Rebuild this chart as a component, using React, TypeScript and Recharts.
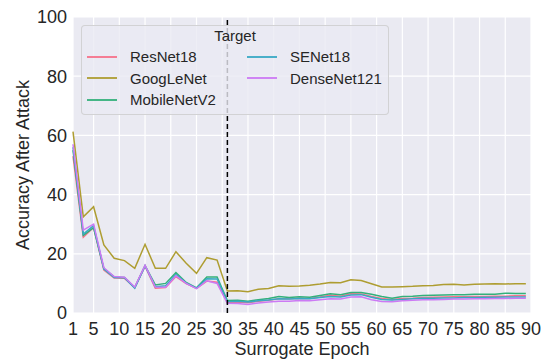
import React from 'react';
import { LineChart, Line, XAxis, YAxis, CartesianGrid, ReferenceLine, Label } from 'recharts';

// Surrogate epochs (every other epoch, 1..89)
const epochs: number[] = [
  1, 3, 5, 7, 9, 11, 13, 15, 17, 19, 21, 23, 25, 27, 29,
  31, 33, 35, 37, 39, 41, 43, 45, 47, 49, 51, 53, 55, 57, 59,
  61, 63, 65, 67, 69, 71, 73, 75, 77, 79, 81, 83, 85, 87, 89,
];

const resnet18: number[] = [
  53, 25.6, 28.9, 14.5, 11.8, 11.7, 8.6, 15.8, 8.4, 8.6, 12.3, 9.9, 8.3, 10.8, 10.4,
  3.5, 3.7, 3.5, 4.0, 4.3, 4.8, 4.8, 5.0, 4.9, 5.4, 6.0, 5.7, 6.5, 6.4, 5.6,
  4.9, 4.6, 4.9, 5.0, 5.2, 5.3, 5.4, 5.5, 5.5, 5.6, 5.6, 5.7, 5.7, 5.8, 5.8,
];

const googlenet: number[] = [
  61.3, 32.5, 35.9, 23.0, 18.5, 17.7, 15.1, 23.2, 15.1, 15.1, 20.7, 16.8, 13.4, 18.7, 17.9,
  7.4, 7.5, 7.2, 8.0, 8.3, 9.2, 9.0, 9.1, 9.4, 9.8, 10.3, 10.2, 11.2, 11.0, 9.9,
  8.8, 8.8, 8.9, 9.0, 9.2, 9.3, 9.6, 9.7, 9.5, 9.7, 9.8, 9.9, 9.8, 9.9, 9.9,
];

const mobilenetv2: number[] = [
  55, 26.2, 28.8, 15.0, 12.2, 12.0, 8.6, 16.0, 9.5, 10.0, 13.7, 10.3, 8.5, 12.2, 12.2,
  4.2, 4.3, 4.0, 4.5, 4.9, 5.6, 5.2, 5.5, 5.3, 5.9, 6.5, 6.2, 6.9, 6.9, 6.3,
  5.6, 5.0, 5.6, 5.7, 5.9, 6.0, 6.1, 6.2, 6.2, 6.3, 6.3, 6.3, 6.7, 6.6, 6.6,
];

const senet18: number[] = [
  56, 26.7, 29.5, 14.8, 12.0, 11.9, 8.4, 15.9, 8.9, 9.2, 13.0, 10.1, 8.4, 11.6, 11.5,
  3.8, 4.0, 3.7, 4.1, 4.4, 4.8, 4.7, 4.9, 4.8, 5.2, 5.6, 5.4, 6.1, 6.2, 5.3,
  4.6, 4.4, 4.6, 4.8, 5.0, 5.0, 5.1, 5.1, 5.2, 5.2, 5.3, 5.3, 5.4, 5.4, 5.4,
];

const densenet121: number[] = [
  57, 28, 30, 15.3, 12.3, 12.1, 8.8, 16.1, 8.8, 8.7, 12.6, 10.0, 8.2, 10.9, 10.0,
  3.3, 3.2, 2.9, 3.4, 3.7, 4.0, 4.0, 4.2, 4.1, 4.5, 4.8, 4.7, 5.4, 5.5, 4.5,
  3.9, 3.8, 4.1, 4.3, 4.5, 4.5, 4.6, 4.7, 4.7, 4.8, 4.8, 4.9, 4.9, 5.0, 5.0,
];

const xTicks: number[] = [1, 5, 10, 15, 20, 25, 30, 35, 40, 45, 50, 55, 60, 65, 70, 75, 80, 85, 90];
const yTicks: number[] = [0, 20, 40, 60, 80, 100];
const switchEpoch = 31;

const series = [
  { key: 'ResNet18', values: resnet18, color: '#f77189' },
  { key: 'GoogLeNet', values: googlenet, color: '#ae9d31' },
  { key: 'MobileNetV2', values: mobilenetv2, color: '#33b07a' },
  { key: 'SENet18', values: senet18, color: '#38a9c5' },
  { key: 'DenseNet121', values: densenet121, color: '#cc7af4' },
];

const rows = epochs.map((epoch, i) => {
  const row: Record<string, number> = { epoch };
  series.forEach((s) => {
    row[s.key] = s.values[i];
  });
  return row;
});

const FONT = '"Liberation Sans", Arial, sans-serif';
const TEXT = '#262626';

function LegendBox() {
  const item = (s: { key: string; color: string }) => (
    <div key={s.key} style={{ display: 'flex', alignItems: 'center', height: 21.6 }}>
      <svg width={30} height={4} style={{ marginRight: 13, display: 'block' }}>
        <line x1={0} y1={2} x2={30} y2={2} stroke={s.color} strokeWidth={1.8} />
      </svg>
      <span>{s.key}</span>
    </div>
  );
  return (
    <div
      style={{
        position: 'absolute',
        left: 81,
        top: 25,
        width: 306,
        height: 88,
        boxSizing: 'content-box',
        background: 'rgba(234,234,242,0.8)',
        border: '1px solid rgba(204,204,204,0.8)',
        borderRadius: 4,
        fontFamily: FONT,
        fontSize: 15,
        color: TEXT,
      }}
    >
      <div style={{ textAlign: 'center', marginTop: 0, height: 20, lineHeight: '20px' }}>Target</div>
      <div style={{ display: 'flex', marginLeft: 5, marginTop: 0 }}>
        <div style={{ width: 160 }}>{series.slice(0, 3).map(item)}</div>
        <div>{series.slice(3).map(item)}</div>
      </div>
    </div>
  );
}

export default function App() {
  return (
    <div style={{ position: 'absolute', left: 0, top: 0, width: 552, height: 360, background: '#ffffff' }}>
      <LineChart width={552} height={360} data={rows} margin={{ top: 17, right: 21, bottom: 0, left: 0 }}>
        <CartesianGrid fill="#eaeaf2" fillOpacity={1} stroke="#ffffff" strokeWidth={1.2} />
        <XAxis
          dataKey="epoch"
          type="number"
          domain={[1, 90]}
          ticks={xTicks}
          interval={0}
          height={47}
          axisLine={false}
          tickLine={false}
          tickSize={0}
          tickMargin={9}
          tick={{ fill: TEXT, fontSize: 18, fontFamily: FONT }}
        >
          <Label
            value="Surrogate Epoch"
            position="insideBottom"
            offset={5}
            style={{ fill: TEXT, fontSize: 18, fontFamily: FONT }}
          />
        </XAxis>
        <YAxis
          type="number"
          domain={[0, 100]}
          ticks={yTicks}
          width={73}
          axisLine={false}
          tickLine={false}
          tickSize={0}
          tickMargin={6}
          tick={{ fill: TEXT, fontSize: 18, fontFamily: FONT }}
        >
          <Label
            value="Accuracy After Attack"
            angle={-90}
            position="insideLeft"
            offset={23}
            style={{ fill: TEXT, fontSize: 18, fontFamily: FONT, textAnchor: 'middle' }}
          />
        </YAxis>
        {series.map((s) => (
          <Line
            key={s.key}
            dataKey={s.key}
            type="linear"
            stroke={s.color}
            strokeWidth={1.5}
            dot={false}
            activeDot={false}
            isAnimationActive={false}
          />
        ))}
        <ReferenceLine x={switchEpoch} stroke="#000000" strokeWidth={1.5} strokeDasharray="5 3" />
      </LineChart>
      <LegendBox />
    </div>
  );
}
